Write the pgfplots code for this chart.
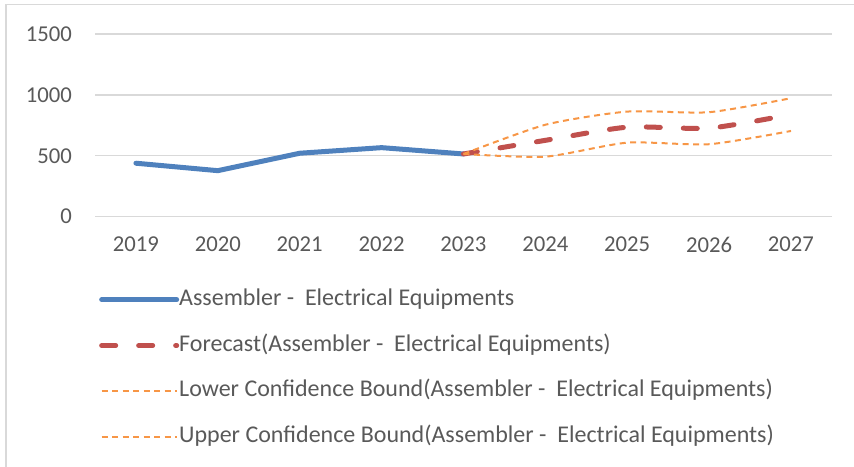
\documentclass[border=0pt]{standalone}
\usepackage{pgfplots}
\pgfplotsset{compat=1.18}
\usepackage{fontspec}
\setmainfont{Carlito}
\definecolor{txt}{HTML}{595959}
\definecolor{gridc}{HTML}{D9D9D9}
\definecolor{actual}{HTML}{4F81BD}
\definecolor{fcast}{HTML}{C0504D}
\definecolor{bound}{HTML}{F79646}
\begin{document}
\begin{tikzpicture}
\path[use as bounding box] (0,0) rectangle (854bp,467bp);
\draw[gridc, line width=1.5bp] (6bp,0) -- (6bp,462.5bp) -- (854bp,462.5bp);
\begin{axis}[
    at={(95bp,250.3bp)}, anchor=south west,
    scale only axis, width=737bp, height=182.7bp,
    xmin=2018.5, xmax=2027.5, ymin=0, ymax=1500,
    xtick={2019,...,2027}, ytick={0,500,1000,1500},
    axis line style={draw=none},
    major tick length=0pt,
    ymajorgrids, grid style={gridc, line width=1.4bp},
    font=\fontsize{22.7bp}{27bp}\selectfont\color{txt},
    /pgf/number format/assume math mode=true,
    /pgf/number format/set thousands separator={},
    xticklabel style={inner sep=0pt, anchor=north, yshift=-20bp},
    yticklabel style={inner sep=0pt, anchor=east, xshift=-23bp},
    legend cell align=left,
    legend style={at={(0.0054,-0.396)}, anchor=north west, draw=none, fill=none,
        inner sep=0pt, row sep=24.8bp,
        font=\fontsize{24bp}{28bp}\selectfont,
        nodes={inner sep=0pt, text height=16bp, text depth=5bp, text=txt}},
    legend image code/.code={\draw[#1] (0bp,0bp) -- (75bp,0bp);},
]
\addplot[actual, line width=5bp, line cap=round, line join=round] coordinates {
(2019,439) (2020,378) (2021,521) (2022,567) (2023,515)};
\addlegendentry{Assembler -\ \ Electrical Equipments}
\addplot[fcast, line width=5bp, line cap=round, dash pattern=on 14bp off 23bp, smooth, tension=0.4] coordinates {
(2023,515) (2024,627) (2025,735) (2026,727) (2027,839)};
\addlegendentry{Forecast(Assembler -\ \ Electrical Equipments)}
\addplot[bound, line width=2bp, dash pattern=on 6bp off 4.5bp, smooth, tension=0.4] coordinates {
(2023,515) (2024,493) (2025,608) (2026,595) (2027,704)};
\addlegendentry{Lower Confidence Bound(Assembler -\ \ Electrical Equipments)}
\addplot[bound, line width=2bp, dash pattern=on 6bp off 4.5bp, smooth, tension=0.4] coordinates {
(2023,515) (2024,755) (2025,863) (2026,858) (2027,973)};
\addlegendentry{Upper Confidence Bound(Assembler -\ \ Electrical Equipments)}
\end{axis}
\end{tikzpicture}
\end{document}
